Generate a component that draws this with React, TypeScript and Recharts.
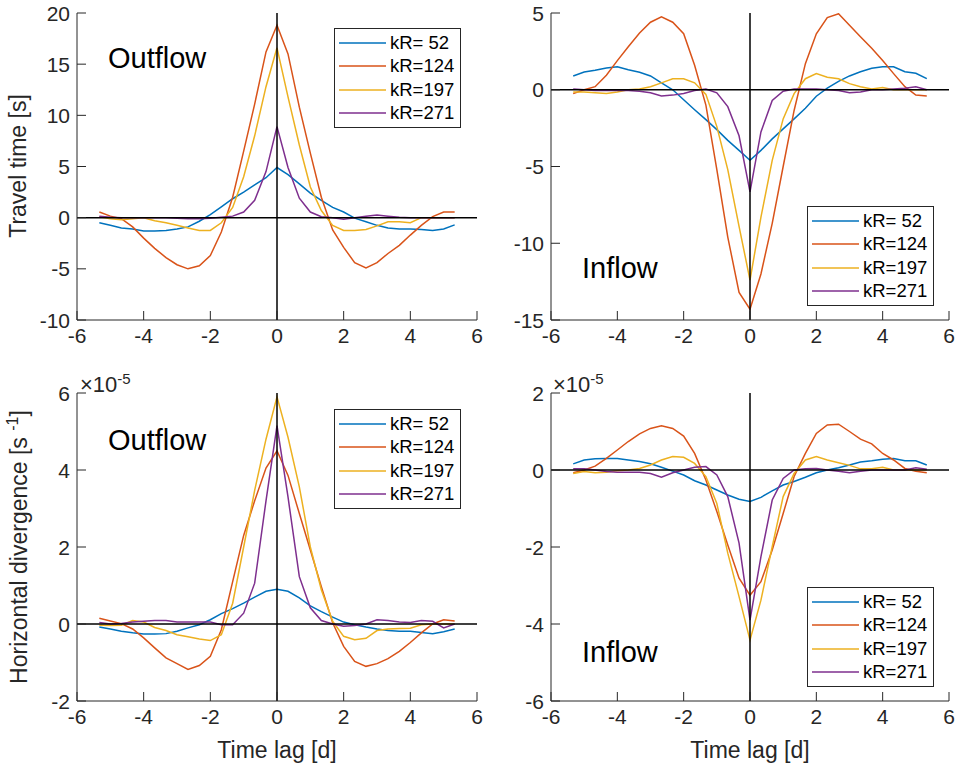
import React from 'react';
import {
  LineChart,
  Line,
  XAxis,
  YAxis,
  ReferenceLine,
  Legend,
} from 'recharts';

// time lag in days (one sample every 8 h)
const lag = [
  -5.33, -5, -4.67, -4.33, -4, -3.67, -3.33, -3, -2.67, -2.33, -2, -1.67, -1.33, -1, -0.67, -0.33, 0,
  0.33, 0.67, 1, 1.33, 1.67, 2, 2.33, 2.67, 3, 3.33, 3.67, 4, 4.33, 4.67, 5, 5.33,
];

const seriesNames = ['kR= 52', 'kR=124', 'kR=197', 'kR=271'];
const colors = ['#0072BD', '#D95319', '#EDB120', '#7E2F8E'];

// travel time, outflow [s]
const ttOut52 = [-0.5, -0.75, -1.0, -1.1, -1.3, -1.3, -1.25, -1.1, -0.9, -0.35, 0.3, 1.05, 1.85, 2.5, 3.2, 3.9, 4.9, 4.2, 3.3, 2.4, 1.7, 1.0, 0.55, -0.05, -0.4, -0.75, -1.0, -1.1, -1.1, -1.15, -1.25, -1.1, -0.7];
const ttOut124 = [0.55, 0.15, -0.1, -0.9, -2.0, -3.0, -3.9, -4.6, -5.0, -4.7, -3.7, -1.4, 2.0, 6.5, 11.1, 16.2, 18.8, 16.0, 10.8, 6.3, 2.0, -1.2, -2.9, -4.4, -4.9, -4.4, -3.5, -2.7, -1.7, -0.75, 0.1, 0.55, 0.55];
const ttOut197 = [0.1, -0.1, -0.2, -0.1, 0, -0.3, -0.5, -0.75, -1.0, -1.25, -1.25, -0.5, 1.0, 4.0, 8.0, 12.8, 16.6, 11.8, 7.1, 3.0, 0.7, -0.75, -1.25, -1.25, -1.15, -0.8, -0.4, -0.4, -0.5, 0, 0, 0, 0];
const ttOut271 = [0.15, 0.05, 0, 0, 0, 0, 0, -0.05, -0.1, -0.1, -0.05, 0.05, 0.15, 0.55, 1.7, 4.5, 8.9, 4.9, 1.9, 0.55, 0.1, 0, -0.15, 0, 0.15, 0.25, 0.15, 0.05, 0, 0, 0, 0, 0];

// travel time, inflow [s]
const ttIn52 = [0.9, 1.15, 1.27, 1.42, 1.5, 1.3, 1.14, 0.9, 0.45, 0, -0.65, -1.3, -1.95, -2.6, -3.3, -3.95, -4.6, -3.95, -3.2, -2.55, -1.9, -1.2, -0.42, 0.1, 0.55, 0.9, 1.17, 1.4, 1.5, 1.5, 1.17, 1.07, 0.72];
const ttIn124 = [-0.25, 0, 0.2, 0.95, 1.9, 2.8, 3.7, 4.4, 4.75, 4.4, 3.65, 1.6, -1.0, -5.2, -9.6, -13.2, -14.3, -12.0, -8.7, -5.0, -1.35, 1.7, 3.65, 4.7, 4.95, 4.2, 3.45, 2.7, 1.9, 1.05, 0.2, -0.35, -0.4];
const ttIn197 = [-0.15, -0.15, -0.2, -0.25, -0.15, 0, 0.05, 0.2, 0.45, 0.72, 0.72, 0.45, -0.3, -2.4, -5.2, -8.9, -12.4, -8.3, -4.6, -1.9, -0.25, 0.72, 1.05, 0.82, 0.72, 0.4, 0.2, 0.05, 0.15, 0, 0, 0, 0];
const ttIn271 = [0.05, 0, -0.05, -0.05, -0.05, -0.05, -0.1, -0.2, -0.4, -0.35, -0.25, -0.05, 0.05, -0.2, -1.1, -3.0, -6.65, -2.75, -0.7, -0.1, 0.05, 0.05, 0.05, 0, -0.05, -0.2, -0.15, 0, 0, 0.05, 0.1, 0.2, 0];

// horizontal divergence, outflow [1e-5 s^-1]
const divOut52 = [-0.08, -0.13, -0.19, -0.23, -0.26, -0.26, -0.25, -0.19, -0.1, -0.02, 0.11, 0.27, 0.4, 0.54, 0.7, 0.85, 0.9, 0.85, 0.68, 0.47, 0.32, 0.18, 0.05, -0.02, -0.08, -0.13, -0.17, -0.19, -0.19, -0.22, -0.25, -0.2, -0.13];
const divOut124 = [0.15, 0.08, 0.01, -0.13, -0.36, -0.62, -0.88, -1.03, -1.18, -1.08, -0.84, -0.15, 1.1, 2.3, 3.2, 4.05, 4.5, 3.86, 2.87, 1.92, 0.97, 0.03, -0.58, -0.97, -1.1, -1.03, -0.9, -0.71, -0.48, -0.23, 0, 0.11, 0.08];
const divOut197 = [-0.03, -0.04, -0.03, 0.09, 0.05, -0.09, -0.17, -0.28, -0.33, -0.39, -0.43, -0.28, 0.54, 2.0, 3.47, 4.8, 5.9, 4.85, 3.56, 2.0, 0.89, 0.07, -0.32, -0.41, -0.37, -0.17, -0.13, -0.12, -0.11, -0.02, 0, 0, 0];
const divOut271 = [0.04, 0, 0.01, 0.05, 0.07, 0.09, 0.09, 0.05, 0.05, 0.05, 0.05, -0.02, -0.02, 0.28, 1.06, 3.2, 5.15, 3.3, 1.23, 0.42, 0.09, 0, -0.06, -0.04, 0, 0.11, 0.09, 0.05, 0.04, 0.09, 0.07, -0.1, 0];

// horizontal divergence, inflow [1e-5 s^-1]
const divIn52 = [0.16, 0.26, 0.29, 0.3, 0.3, 0.26, 0.22, 0.16, 0.07, -0.03, -0.13, -0.28, -0.39, -0.52, -0.65, -0.76, -0.82, -0.71, -0.54, -0.39, -0.3, -0.19, -0.07, 0, 0.06, 0.13, 0.21, 0.24, 0.28, 0.3, 0.24, 0.24, 0.13];
const divIn124 = [-0.07, 0, 0.1, 0.3, 0.52, 0.74, 0.94, 1.08, 1.15, 1.08, 0.88, 0.43, -0.26, -1.08, -1.95, -2.81, -3.25, -2.9, -2.08, -1.13, -0.17, 0.43, 0.95, 1.17, 1.19, 1.0, 0.8, 0.68, 0.43, 0.26, 0.04, -0.03, -0.07];
const divIn197 = [-0.09, -0.04, -0.07, -0.06, -0.02, 0, 0.04, 0.13, 0.26, 0.35, 0.33, 0.17, -0.17, -0.87, -2.16, -3.29, -4.42, -3.38, -1.99, -0.69, -0.09, 0.26, 0.35, 0.26, 0.19, 0.12, 0.03, 0.03, 0.07, 0, 0, 0, 0];
const divIn271 = [0.03, 0.03, 0, -0.04, -0.06, -0.06, -0.06, -0.09, -0.19, -0.07, 0, 0.07, 0.09, -0.13, -0.69, -1.9, -3.9, -2.25, -0.78, -0.22, 0, 0.03, 0.04, 0, -0.03, -0.07, -0.03, 0, 0, 0, 0, 0.06, 0.02];

const xTicks = [-6, -4, -2, 0, 2, 4, 6];
const ttOutTicks = [-10, -5, 0, 5, 10, 15, 20];
const ttInTicks = [-15, -10, -5, 0, 5];
const divOutTicks = [-2, 0, 2, 4, 6];
const divInTicks = [-6, -4, -2, 0, 2];

const FONT = '"Liberation Sans", Arial, Helvetica, sans-serif';
const AX = '#262626';
const TICK = 9;

function buildRows(s: number[][]) {
  return lag.map((t, i) => ({ t, s0: s[0][i], s1: s[1][i], s2: s[2][i], s3: s[3][i] }));
}

const bottomTick = (p: any) => (
  <g>
    <line x1={p.x} x2={p.x} y1={p.y} y2={p.y - TICK} stroke={AX} />
    <text x={p.x} y={p.y + 8} dy="0.72em" textAnchor="middle" fontFamily={FONT} fontSize={21} fill={AX}>
      {p.payload.value}
    </text>
  </g>
);
const topTick = (p: any) => (
  <line x1={p.x} x2={p.x} y1={p.y} y2={p.y + TICK} stroke={AX} />
);
const leftTick = (p: any) => (
  <g>
    <line x1={p.x} x2={p.x + TICK} y1={p.y} y2={p.y} stroke={AX} />
    <text x={p.x - 7} y={p.y} dy="0.36em" textAnchor="end" fontFamily={FONT} fontSize={21} fill={AX}>
      {p.payload.value}
    </text>
  </g>
);
const rightTick = (p: any) => (
  <line x1={p.x} x2={p.x - TICK} y1={p.y} y2={p.y} stroke={AX} />
);

function LegendBox({ payload }: any) {
  return (
    <div
      style={{
        width: 125,
        padding: '2px 0',
        border: `1px solid ${AX}`,
        background: '#fff',
        fontFamily: FONT,
        fontSize: 18.5,
        color: '#000',
      }}
    >
      {(payload || []).map((e: any, i: number) => (
        <div key={i} style={{ display: 'flex', alignItems: 'center', height: 23.5 }}>
          <svg width={55} height={6} style={{ flex: 'none' }}>
            <line x1={4} x2={51} y1={3} y2={3} stroke={e.color} strokeWidth={1.5} />
          </svg>
          <span style={{ whiteSpace: 'pre', lineHeight: 1 }}>{e.value}</span>
        </div>
      ))}
    </div>
  );
}

type PanelProps = {
  series: number[][];
  yDomain: [number, number];
  yTicks: number[];
  left: number;
  top: number;
  width: number;
  height: number;
  yWidth: number;
  right: number;
  legendAt: { left: number; top: number };
};

function Panel(props: PanelProps) {
  const rows = buildRows(props.series);
  return (
    <div style={{ position: 'absolute', left: props.left, top: props.top }}>
      <LineChart
        width={props.width}
        height={props.height}
        data={rows}
        margin={{ top: 13, right: props.right, bottom: 0, left: 0 }}
      >
        <XAxis
          dataKey="t"
          type="number"
          domain={[-6, 6]}
          ticks={xTicks}
          interval={0}
          height={30}
          tickSize={0}
          tickMargin={0}
          tickLine={false}
          tick={bottomTick}
          axisLine={{ stroke: AX }}
          allowDataOverflow
        />
        <XAxis
          xAxisId="top"
          orientation="top"
          type="number"
          domain={[-6, 6]}
          ticks={xTicks}
          interval={0}
          height={0}
          tickSize={0}
          tickMargin={0}
          tickLine={false}
          tick={topTick}
          axisLine={{ stroke: AX }}
        />
        <YAxis
          type="number"
          domain={props.yDomain}
          ticks={props.yTicks}
          interval={0}
          width={props.yWidth}
          tickSize={0}
          tickMargin={0}
          tickLine={false}
          tick={leftTick}
          axisLine={{ stroke: AX }}
          allowDataOverflow
        />
        <YAxis
          yAxisId="right"
          orientation="right"
          type="number"
          domain={props.yDomain}
          ticks={props.yTicks}
          interval={0}
          width={0}
          tickSize={0}
          tickMargin={0}
          tickLine={false}
          tick={rightTick}
          axisLine={{ stroke: AX }}
        />
        <Legend
          layout="vertical"
          align="center"
          verticalAlign="middle"
          content={<LegendBox />}
          wrapperStyle={{ left: props.legendAt.left, top: props.legendAt.top, width: 'auto' }}
        />
        {seriesNames.map((name, i) => (
          <Line
            key={name}
            type="linear"
            dataKey={`s${i}`}
            name={name}
            stroke={colors[i]}
            strokeWidth={1.5}
            dot={false}
            isAnimationActive={false}
          />
        ))}
        <ReferenceLine x={0} stroke="#000" strokeWidth={1.5} />
        <ReferenceLine y={0} stroke="#000" strokeWidth={1.5} />
      </LineChart>
    </div>
  );
}

const tagStyle: React.CSSProperties = {
  position: 'absolute',
  fontFamily: FONT,
  fontSize: 29,
  lineHeight: 1,
  color: '#000',
  whiteSpace: 'nowrap',
};

const vLabel = (top: number): React.CSSProperties => ({
  position: 'absolute',
  left: 18,
  top,
  transform: 'translate(-50%, -50%) rotate(-90deg)',
  fontFamily: FONT,
  fontSize: 23,
  lineHeight: 1,
  color: AX,
  whiteSpace: 'nowrap',
});

const hLabel = (left: number): React.CSSProperties => ({
  position: 'absolute',
  left,
  top: 750,
  transform: 'translate(-50%, -50%)',
  fontFamily: FONT,
  fontSize: 23,
  lineHeight: 1,
  color: AX,
  whiteSpace: 'nowrap',
});

const expStyle = (left: number): React.CSSProperties => ({
  position: 'absolute',
  left,
  top: 371,
  fontFamily: FONT,
  fontSize: 22,
  lineHeight: 1,
  color: AX,
  whiteSpace: 'nowrap',
});

export default function App() {
  return (
    <div style={{ position: 'absolute', left: 0, top: 0, width: 955, height: 767, background: '#fff' }}>
      <Panel
        series={[ttOut52, ttOut124, ttOut197, ttOut271]}
        yDomain={[-10, 20]}
        yTicks={ttOutTicks}
        left={0}
        top={0}
        width={492}
        height={350}
        yWidth={77}
        right={15}
        legendAt={{ left: 334, top: 28 }}
      />
      <Panel
        series={[ttIn52, ttIn124, ttIn197, ttIn271]}
        yDomain={[-15, 5]}
        yTicks={ttInTicks}
        left={480}
        top={0}
        width={475}
        height={350}
        yWidth={71}
        right={6}
        legendAt={{ left: 327, top: 206 }}
      />
      <Panel
        series={[divOut52, divOut124, divOut197, divOut271]}
        yDomain={[-2, 6]}
        yTicks={divOutTicks}
        left={0}
        top={380}
        width={492}
        height={351}
        yWidth={77}
        right={15}
        legendAt={{ left: 334, top: 29 }}
      />
      <Panel
        series={[divIn52, divIn124, divIn197, divIn271]}
        yDomain={[-6, 2]}
        yTicks={divInTicks}
        left={480}
        top={380}
        width={475}
        height={351}
        yWidth={71}
        right={6}
        legendAt={{ left: 327, top: 207 }}
      />

      <div style={{ ...tagStyle, left: 108, top: 44 }}>Outflow</div>
      <div style={{ ...tagStyle, left: 582, top: 254 }}>Inflow</div>
      <div style={{ ...tagStyle, left: 108, top: 426 }}>Outflow</div>
      <div style={{ ...tagStyle, left: 582, top: 638 }}>Inflow</div>

      <div style={expStyle(80)}>
        ×10<sup style={{ fontSize: 15 }}>-5</sup>
      </div>
      <div style={expStyle(553)}>
        ×10<sup style={{ fontSize: 15 }}>-5</sup>
      </div>

      <div style={vLabel(166)}>Travel time [s]</div>
      <div style={vLabel(547)}>
        Horizontal divergence [s <sup style={{ fontSize: 16 }}>-1</sup>]
      </div>
      <div style={hLabel(277)}>Time lag [d]</div>
      <div style={hLabel(750)}>Time lag [d]</div>
    </div>
  );
}
